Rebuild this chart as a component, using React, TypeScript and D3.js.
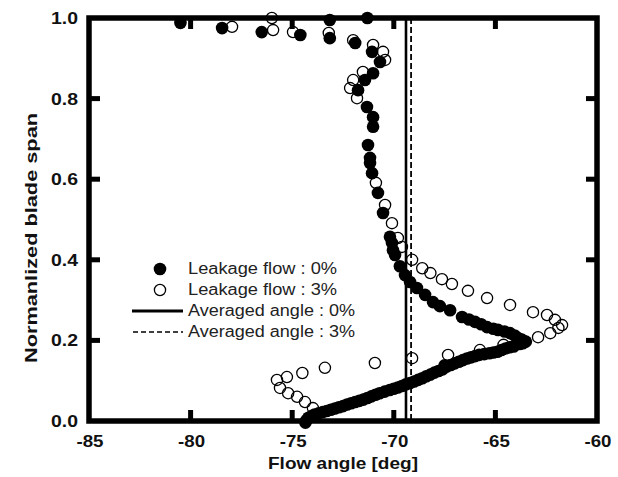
import React from 'react';
import * as d3 from 'd3';

const xTicks = [-85, -80, -75, -70, -65, -60];
const yTicks = [0, 0.2, 0.4, 0.6, 0.8, 1.0];

// Leakage flow : 0% (filled)
const leak0: [number, number][] = [
  [-80.5, 0.988], [-78.45, 0.975], [-76.5, 0.965], [-74.6, 0.958], [-73.15, 0.995], [-73.15, 0.95],
  [-71.3, 1.0], [-71.9, 0.938], [-71.07, 0.916], [-70.68, 0.891], [-71.02, 0.863], [-71.42, 0.846],
  [-71.76, 0.821], [-71.32, 0.779], [-71.02, 0.754], [-71.02, 0.73], [-71.27, 0.685], [-71.17, 0.653],
  [-71.17, 0.64], [-71.07, 0.615], [-70.78, 0.566], [-70.53, 0.516], [-70.19, 0.457], [-70.09, 0.442],
  [-70.04, 0.424], [-69.94, 0.412], [-69.7, 0.384], [-69.45, 0.362], [-69.2, 0.345], [-68.86, 0.33],
  [-68.46, 0.313], [-68.07, 0.295], [-67.73, 0.285], [-67.23, 0.275], [-66.64, 0.258], [-66.3, 0.252],
  [-66.0, 0.246], [-65.7, 0.24], [-65.41, 0.233], [-65.1, 0.229], [-64.87, 0.226], [-64.55, 0.222],
  [-64.28, 0.218], [-64.05, 0.212], [-63.89, 0.206], [-63.7, 0.202], [-63.5, 0.197],
  [-63.65, 0.193], [-63.8, 0.191], [-64.1, 0.185], [-64.3, 0.183], [-64.5, 0.18], [-64.7, 0.176],
  [-64.9, 0.172], [-65.1, 0.17], [-65.3, 0.168], [-65.55, 0.166], [-65.8, 0.164], [-66.0, 0.161],
  [-66.2, 0.158], [-66.4, 0.155], [-66.6, 0.151], [-66.8, 0.147], [-67.0, 0.143], [-67.2, 0.139],
  [-67.4, 0.135], [-67.6, 0.128], [-67.5, 0.138], [-67.8, 0.124], [-68.0, 0.12], [-68.2, 0.115],
  [-68.4, 0.111], [-68.6, 0.106], [-68.8, 0.102], [-69.0, 0.098], [-69.2, 0.094], [-69.4, 0.091],
  [-69.6, 0.087], [-69.8, 0.083], [-70.0, 0.08], [-70.2, 0.077], [-70.45, 0.073], [-70.7, 0.069],
  [-70.9, 0.065], [-71.1, 0.061], [-71.3, 0.057], [-71.5, 0.053], [-71.7, 0.05], [-71.9, 0.047],
  [-72.1, 0.044], [-72.3, 0.041], [-72.5, 0.037], [-72.7, 0.034], [-72.9, 0.031], [-73.1, 0.028],
  [-73.3, 0.025], [-73.5, 0.022], [-73.7, 0.019], [-73.9, 0.016], [-74.05, 0.012], [-74.2, 0.008],
  [-74.3, 0.002], [-74.35, -0.004],
];

// Leakage flow : 3% (open)
const leak3: [number, number][] = [
  [-77.96, 0.978], [-76.0, 1.0], [-75.94, 0.97], [-74.96, 0.965], [-73.2, 0.963], [-72.0, 0.945],
  [-71.02, 0.933], [-70.53, 0.916], [-70.43, 0.896], [-71.52, 0.866], [-72.0, 0.846], [-72.15, 0.826],
  [-71.81, 0.801], [-70.88, 0.591], [-70.43, 0.536], [-70.09, 0.491], [-69.8, 0.454], [-69.6, 0.432],
  [-69.1, 0.4], [-68.6, 0.379], [-68.2, 0.367], [-67.63, 0.352], [-67.14, 0.34], [-66.35, 0.323],
  [-65.41, 0.305], [-64.28, 0.288], [-63.15, 0.27], [-62.46, 0.263], [-62.07, 0.251], [-61.72, 0.238],
  [-61.9, 0.231], [-62.3, 0.218], [-62.9, 0.208], [-64.6, 0.189], [-65.76, 0.176], [-67.33, 0.164],
  [-69.1, 0.156], [-70.93, 0.144], [-73.39, 0.132], [-74.5, 0.119], [-75.26, 0.109], [-75.75, 0.102],
  [-75.6, 0.082], [-75.2, 0.069], [-74.76, 0.06], [-74.37, 0.047], [-73.98, 0.032],
];

const avg0 = -69.4;
const avg3 = -69.15;
const legendLabels = ['Leakage flow : 0%', 'Leakage flow : 3%', 'Averaged angle : 0%', 'Averaged angle : 3%'];
const xTitle = 'Flow angle [deg]';
const yTitle = 'Normanlized blade span';

const W = 618;
const H = 477;
const FONT = '"Liberation Sans", Arial, sans-serif';

export default function App() {
  const x = d3.scaleLinear().domain([-85, -60]).range([89, 597]);
  const y = d3.scaleLinear().domain([0, 1]).range([421, 18]);
  const [x0, x1] = x.range();
  const [y0, y1] = y.range();
  const lx = 160;
  const legY = [269, 290, 311, 332];

  return (
    <svg width={W} height={H} style={{ position: 'absolute', left: 0, top: 0, background: '#fff' }}>
      <rect x={0} y={0} width={W} height={H} fill="#fff" />
      {/* averaged angle lines */}
      <line x1={x(avg0)} x2={x(avg0)} y1={y1} y2={y0} stroke="#000" strokeWidth={2.6} />
      <line x1={x(avg3)} x2={x(avg3)} y1={y1} y2={y0} stroke="#000" strokeWidth={1.8} strokeDasharray="6,3" />
      {/* frame */}
      <rect x={x0} y={y1} width={x1 - x0} height={y0 - y1} fill="none" stroke="#000" strokeWidth={5.5} />
      {xTicks.slice(1, -1).map((t) => (
        <g key={'xt' + t}>
          <line x1={x(t)} x2={x(t)} y1={y0} y2={y0 - 11} stroke="#000" strokeWidth={5} />
          <line x1={x(t)} x2={x(t)} y1={y1} y2={y1 + 11} stroke="#000" strokeWidth={5} />
        </g>
      ))}
      {yTicks.slice(1, -1).map((t) => (
        <g key={'yt' + t}>
          <line x1={x0} x2={x0 + 11} y1={y(t)} y2={y(t)} stroke="#000" strokeWidth={5} />
          <line x1={x1} x2={x1 - 11} y1={y(t)} y2={y(t)} stroke="#000" strokeWidth={5} />
        </g>
      ))}
      {/* tick labels */}
      {xTicks.map((t) => (
        <text key={'xl' + t} x={x(t) + 1} y={447} textAnchor="middle" fontFamily={FONT} fontWeight="bold"
          fontSize={17} textLength={27} lengthAdjust="spacingAndGlyphs" fill="#111">
          {String(t)}
        </text>
      ))}
      {yTicks.map((t) => (
        <text key={'yl' + t} x={78} y={y(t) + 6} textAnchor="end" fontFamily={FONT} fontWeight="bold"
          fontSize={17} textLength={27} lengthAdjust="spacingAndGlyphs" fill="#111">
          {t.toFixed(1)}
        </text>
      ))}
      {/* axis titles */}
      <text x={(x0 + x1) / 2} y={469} textAnchor="middle" fontFamily={FONT} fontWeight="bold" fontSize={17}
        textLength={150} lengthAdjust="spacingAndGlyphs" fill="#111">
        {xTitle}
      </text>
      <text transform={`translate(37,238) rotate(-90)`} textAnchor="middle" fontFamily={FONT} fontWeight="bold"
        fontSize={17} textLength={250} lengthAdjust="spacingAndGlyphs" fill="#111">
        {yTitle}
      </text>
      {/* data */}
      {leak3.map((d, i) => (
        <circle key={'o' + i} cx={x(d[0])} cy={y(d[1])} r={5.6} fill="none" stroke="#000" strokeWidth={1.3} />
      ))}
      {leak0.map((d, i) => (
        <circle key={'f' + i} cx={x(d[0])} cy={y(d[1])} r={6.3} fill="#000" />
      ))}
      {/* legend */}
      <circle cx={lx} cy={legY[0]} r={6.3} fill="#000" />
      <circle cx={lx} cy={legY[1]} r={5.6} fill="none" stroke="#000" strokeWidth={1.3} />
      <line x1={132} x2={183} y1={legY[2]} y2={legY[2]} stroke="#000" strokeWidth={3} />
      <line x1={133} x2={183} y1={legY[3]} y2={legY[3]} stroke="#000" strokeWidth={1.5} strokeDasharray="5,3" />
      {legendLabels.map((s, i) => (
        <text key={'lg' + i} x={188} y={legY[i] + 5} fontFamily={FONT} fontSize={16}
          textLength={i < 2 ? 149 : 167} lengthAdjust="spacingAndGlyphs" fill="#222">
          {s}
        </text>
      ))}
    </svg>
  );
}
